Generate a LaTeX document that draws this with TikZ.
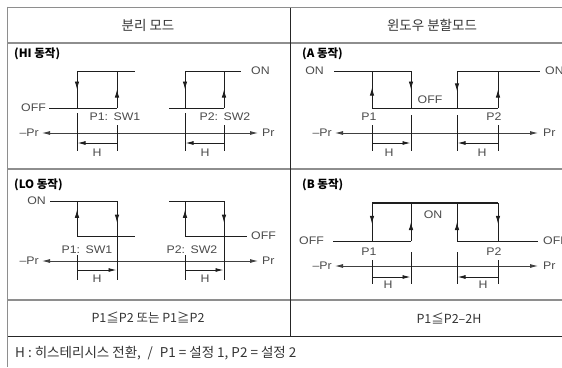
\documentclass[tikz,border=0pt]{standalone}
\usepackage{fontspec}
\setmainfont{Noto Sans CJK KR}
\newfontfamily\latf[FakeStretch=1.12]{Liberation Sans}
\usetikzlibrary{arrows.meta,decorations.markings}
\definecolor{txt}{HTML}{4A4A4A}
\definecolor{rulegray}{HTML}{8E8E8E}
\definecolor{lncol}{HTML}{1E1E1E}
\tikzset{
  lbl/.style={font=\latf\fontsize{11}{11}\selectfont, text=txt, inner sep=0pt},
  head/.style={font=\fontsize{13.5}{13.5}\selectfont, text=black!80, inner sep=0pt},
  rowtxt/.style={font=\fontsize{12.5}{12.5}\selectfont, text=black!80, inner sep=0pt},
  foottxt/.style={font=\fontsize{13.5}{13.5}\selectfont, text=black!80, inner sep=0pt, anchor=west},
  sect/.style={font=\bfseries\fontsize{11.5}{11.5}\selectfont, text=black, inner sep=0pt, anchor=west},
  ln/.style={draw=lncol, line width=0.9pt},
  tick/.style={draw=lncol, line width=0.9pt},
  axisln/.style={draw=black!75, line width=0.8pt, {Latex[length=8pt,width=4pt]}-{Latex[length=8pt,width=4pt]}},
  harr/.style={draw=lncol, line width=0.9pt, -{Latex[length=8pt,width=4pt]}},
  marr/.style={postaction={decorate}, decoration={markings, mark=at position #1 with {\arrow{Latex[length=8pt,width=4.5pt]}}}},
  marr/.default=0.55,
  grayrule/.style={draw=rulegray, line width=1.8pt},
  blackrule/.style={draw=black!85, line width=0.9pt},
}
\begin{document}
\begin{tikzpicture}[x=1pt,y=-1pt]
\useasboundingbox (0,0) rectangle (562,367);
% ---- table ----
\draw[grayrule] (7.5,7.5) -- (562,7.5);
\draw[grayrule] (7.5,43) -- (562,43);
\draw[grayrule] (7.5,169) -- (562,169);
\draw[grayrule] (7.5,300) -- (562,300);
\draw[blackrule] (7.5,336) -- (562,336);
\draw[grayrule] (7.5,6.6) -- (7.5,367);
\draw[blackrule] (290,7.5) -- (290,336);
\node[head] (h1) at (148,25) {분리 모드};
\node[head] (h2) at (432,25) {윈도우 분할모드};
\node[rowtxt] (c1) at (148,318) {P1≦P2 또는 P1≧P2};
\node[rowtxt] (c2) at (449,318) {P1≦P2–2H};
\node[foottxt] (foot) at (15,353) {H : 히스테리시스 전환,\enspace/\enspace P1 = 설정 1, P2 = 설정 2};

% ---- HI ----
\node[sect] (shi) at (14,54) {(HI 동작)};
\draw[ln] (49,108) -- (117,108);
\draw[ln] (77,71) -- (135,71);
\draw[ln,marr=0.5] (77,71) -- (77,108);
\draw[ln,marr=0.5] (117,108) -- (117,71);
\draw[ln] (169,108) -- (224,108);
\draw[ln] (185,71) -- (241,71);
\draw[ln,marr=0.5] (185,71) -- (185,108);
\draw[ln,marr=0.5] (224,108) -- (224,71);
\node[lbl,anchor=east] (hioff) at (46,108) {OFF};
\node[lbl,anchor=west] (hion) at (251,71) {ON};
\node[lbl] (hip1) at (115,117) {P1:\enspace SW1};
\node[lbl] (hip2) at (225,117) {P2:\enspace SW2};
\draw[axisln] (42,133) -- (258,133);
\node[lbl,anchor=east] (hinp) at (39,133) {–Pr};
\node[lbl,anchor=west] (hipp) at (262,133) {Pr};
\draw[tick] (77,113) -- (77,151);
\draw[tick] (117,125) -- (117,151);
\draw[tick] (185,113) -- (185,151);
\draw[tick] (224,125) -- (224,151);
\draw[harr] (117,143) -- (77.5,143);
\draw[harr] (224,143) -- (185.5,143);
\node[lbl] (hih1) at (97,153) {H};
\node[lbl] (hih2) at (205,153) {H};

% ---- LO ----
\node[sect] (slo) at (14,185) {(LO 동작)};
\draw[ln] (50,201) -- (117,201);
\draw[ln] (77,236) -- (135,236);
\draw[ln,marr=0.75] (77,236) -- (77,201);
\draw[ln,marr=0.62] (117,201) -- (117,236);
\draw[ln] (169,201) -- (224,201);
\draw[ln] (185,236) -- (247,236);
\draw[ln,marr=0.75] (185,236) -- (185,201);
\draw[ln,marr=0.62] (224,201) -- (224,236);
\node[lbl,anchor=east] (loon) at (46,201) {ON};
\node[lbl,anchor=west] (looff) at (251,236) {OFF};
\node[lbl] (lop1) at (87,250) {P1:\enspace SW1};
\node[lbl] (lop2) at (192,250) {P2:\enspace SW2};
\draw[axisln] (42,261) -- (258,261);
\node[lbl,anchor=east] (lonp) at (39,261) {–Pr};
\node[lbl,anchor=west] (lopp) at (262,261) {Pr};
\draw[tick] (77,255) -- (77,280);
\draw[tick] (117,236) -- (117,280);
\draw[tick] (185,255) -- (185,280);
\draw[tick] (224,236) -- (224,280);
\draw[harr] (77,270) -- (116.5,270);
\draw[harr] (185,270) -- (223.5,270);
\node[lbl] (loh1) at (97,279) {H};
\node[lbl] (loh2) at (205,279) {H};

% ---- A ----
\node[sect] (sa) at (302,54) {(A 동작)};
\draw[ln] (334,71) -- (411,71);
\draw[ln] (457,71) -- (540,71);
\draw[ln] (372,108) -- (498,108);
\draw[ln,marr=0.55] (372,108) -- (372,71);
\draw[ln,marr=0.5] (411,71) -- (411,108);
\draw[ln,marr=0.55] (457,71) -- (457,108);
\draw[ln,marr=0.5] (498,108) -- (498,71);
\node[lbl,anchor=east] (aon1) at (324,71) {ON};
\node[lbl,anchor=west] (aon2) at (545,71) {ON};
\node[lbl] (aoff) at (430,100) {OFF};
\node[lbl] (ap1) at (369,117) {P1};
\node[lbl] (ap2) at (494,117) {P2};
\draw[axisln] (335,133) -- (538,133);
\node[lbl,anchor=east] (anp) at (332,133) {–Pr};
\node[lbl,anchor=west] (app) at (543,133) {Pr};
\draw[tick] (372,125) -- (372,151);
\draw[tick] (411,115) -- (411,151);
\draw[tick] (457,115) -- (457,151);
\draw[tick] (498,125) -- (498,151);
\draw[harr] (372,143) -- (410.5,143);
\draw[harr] (498,143) -- (457.5,143);
\node[lbl] (ah1) at (389,153) {H};
\node[lbl] (ah2) at (482,153) {H};

% ---- B ----
\node[sect] (sb) at (302,185) {(B 동작)};
\draw[ln, line width=1.3pt] (372,203) -- (498,203);
\draw[ln] (333,241) -- (411,241);
\draw[ln] (457,241) -- (538,241);
\draw[ln,marr=0.55] (372,203) -- (372,241);
\draw[ln,marr=0.5] (411,241) -- (411,203);
\draw[ln,marr=0.5] (457,241) -- (457,203);
\draw[ln,marr=0.55] (498,203) -- (498,241);
\node[lbl,anchor=east] (boff1) at (324,241) {OFF};
\node[lbl,anchor=west] (boff2) at (543,241) {OFF};
\node[lbl] (bon) at (433,215) {ON};
\node[lbl] (bp1) at (369,252) {P1};
\node[lbl] (bp2) at (494,252) {P2};
\draw[axisln] (335,266) -- (538,266);
\node[lbl,anchor=east] (bnp) at (332,266) {–Pr};
\node[lbl,anchor=west] (bpp) at (543,266) {Pr};
\draw[tick] (372,260) -- (372,284);
\draw[tick] (411,252) -- (411,284);
\draw[tick] (457,252) -- (457,284);
\draw[tick] (498,260) -- (498,284);
\draw[harr] (372,277) -- (410.5,277);
\draw[harr] (498,277) -- (457.5,277);
\node[lbl] (bh1) at (388,285) {H};
\node[lbl] (bh2) at (483,285) {H};
\end{tikzpicture}
\end{document}
